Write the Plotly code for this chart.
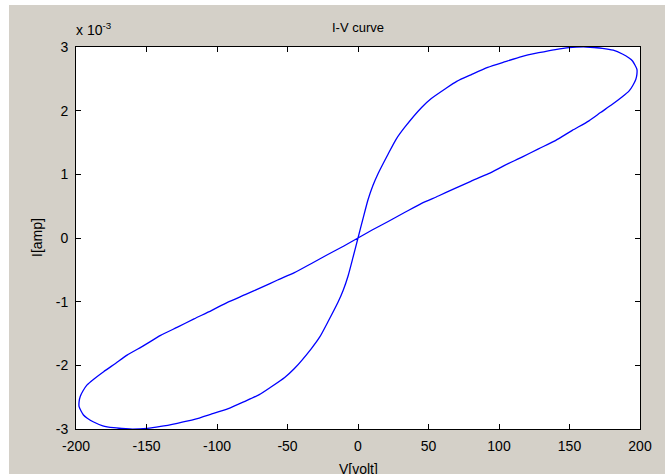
import plotly.graph_objects as go

# Values: first-quadrant half of the loop (V in volt, I in mA)
v_q1 = [0, 3.5, 7.1, 10.5, 14.2, 21.4, 27, 33.2, 45.1, 52, 61.7, 70, 80.7, 92, 104.5,
        116, 128.2, 140, 149.6, 162, 173.3, 181, 187.5, 192, 194.7, 197.8, 197.8, 197,
        195, 192.3, 187, 180.4, 172, 163.8, 152, 140, 128, 116.3, 104, 92.6, 80, 68.8,
        57, 45.1, 33, 21.4, 10, 0]
i_q1 = [0, 0.30, 0.60, 0.82, 1.01, 1.32, 1.55, 1.74, 2.05, 2.19, 2.34, 2.46, 2.57, 2.68, 2.77,
        2.85, 2.91, 2.96, 2.99, 3.00, 2.98, 2.95, 2.89, 2.83, 2.78, 2.65, 2.57, 2.49,
        2.40, 2.31, 2.21, 2.10, 1.97, 1.84, 1.69, 1.53, 1.40, 1.27, 1.14, 1.01, 0.89, 0.78,
        0.66, 0.545, 0.40, 0.26, 0.125, 0]
# third-quadrant half (point-symmetric, traversed continuing from the origin)
v_q3 = [0, -10, -21.4, -33, -45.1, -57, -68.8, -80, -92.6, -104, -116.3, -128, -140, -152,
        -163.8, -172, -180.4, -187, -192.3, -195, -197, -197.8, -197.8, -194.7, -192, -187.5,
        -181, -173.3, -162, -149.6, -140, -128.2, -116, -104.5, -92, -80.7, -70, -61.7, -52,
        -45.1, -33.2, -27, -21.4, -14.2, -10.5, -7.1, -3.5, 0]
i_q3 = [0, -0.125, -0.26, -0.40, -0.545, -0.66, -0.78, -0.89, -1.01, -1.14, -1.27, -1.40, -1.53, -1.69,
        -1.84, -1.97, -2.10, -2.21, -2.31, -2.40, -2.49, -2.57, -2.65, -2.78, -2.83, -2.89,
        -2.95, -2.98, -3.00, -2.99, -2.96, -2.91, -2.85, -2.77, -2.68, -2.57, -2.46, -2.34, -2.19,
        -2.05, -1.74, -1.55, -1.32, -1.01, -0.82, -0.60, -0.30, 0]

x_ticks = [-200, -150, -100, -50, 0, 50, 100, 150, 200]
y_ticks = [-3, -2, -1, 0, 1, 2, 3]

V = v_q1 + v_q3[1:]
I = i_q1 + i_q3[1:]

W, H = 665, 474
L, R, T, B = 76, 640, 47, 429
pw, ph = R - L, B - T

def px(xp):
    return (xp - L) / pw

def py(yp):
    return (B - yp) / ph

FONT = "Liberation Sans, Arial, sans-serif"
GRAY = "#d4d0c8"

fig = go.Figure()
fig.add_trace(go.Scatter(x=V, y=I, mode="lines", line=dict(color="#0000ff", width=1.3, shape="spline", smoothing=0.6),
                         hoverinfo="skip", showlegend=False))

axis_common = dict(showline=True, linecolor="#000000", linewidth=1, mirror="ticks",
                   ticks="inside", ticklen=5, tickcolor="#000000", tickwidth=1,
                   showgrid=False, zeroline=False, tickfont=dict(family=FONT, size=14, color="#000000"))

fig.update_layout(
    width=W, height=H,
    margin=dict(l=L, r=W - R, t=T, b=H - B, pad=0),
    paper_bgcolor=GRAY, plot_bgcolor="#ffffff",
    xaxis=dict(range=[-200, 200], tickvals=x_ticks, ticktext=[str(t) for t in x_ticks],
               ticklabelstandoff=4, **axis_common),
    yaxis=dict(range=[-3, 3], tickvals=y_ticks, ticktext=[str(t) for t in y_ticks],
               ticklabelstandoff=4, **axis_common),
    title=dict(text="I-V curve", x=358 / W, xanchor="center", y=1 - 27 / H, yanchor="middle",
               font=dict(family=FONT, size=13, color="#000000")),
    shapes=[
        dict(type="rect", xref="paper", yref="paper", x0=px(0), x1=px(9), y0=py(H), y1=py(0),
             fillcolor="#ffffff", line=dict(width=0)),
        dict(type="rect", xref="paper", yref="paper", x0=px(0), x1=px(W), y0=py(5), y1=py(0),
             fillcolor="#ffffff", line=dict(width=0)),
    ],
    annotations=[
        dict(text="x 10<sup>-3</sup>", xref="paper", yref="paper", x=px(74), y=py(40),
             xanchor="left", yanchor="bottom", showarrow=False,
             font=dict(family=FONT, size=14, color="#000000")),
        dict(text="V[volt]", xref="paper", yref="paper", x=px(358), y=py(459),
             xanchor="center", yanchor="top", showarrow=False,
             font=dict(family=FONT, size=14, color="#000000")),
        dict(text="I[amp]", xref="paper", yref="paper", x=px(37), y=py(238), textangle=-90,
             xanchor="center", yanchor="middle", showarrow=False,
             font=dict(family=FONT, size=14, color="#000000")),
    ],
)

fig.write_html("out.html", config={"displayModeBar": False},
               post_script="document.body.style.margin='0';document.body.style.overflow='hidden';")
